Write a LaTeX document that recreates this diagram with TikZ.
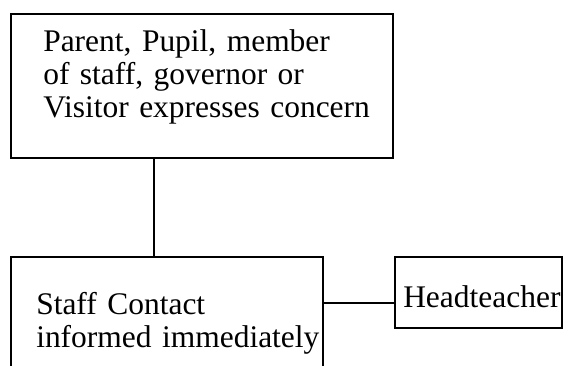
\documentclass[tikz,border=0pt]{standalone}
\usepackage{fontspec}
\setmainfont{Liberation Serif}
\usepackage{tikz}
\usetikzlibrary{calc}

\begin{document}
\begin{tikzpicture}[x=0.75pt,y=-0.75pt]
    \tikzstyle{every node}=[font=\fontsize{23.6pt}{25.1pt}\selectfont]
    \tikzstyle{box}=[draw, line width=1.4pt, inner sep=0pt]
    \tikzstyle{txt}=[anchor=base west, inner sep=0pt, align=left]
    \useasboundingbox (0,0) rectangle (563,365); %
    \clip (0,0) rectangle (563,365); %
    \node[box, anchor=north west, minimum width=286.5pt, minimum height=108pt] (concern) at (10,13) {}; %
    \node[box, anchor=north west, minimum width=234pt, minimum height=123pt] (contact) at ($(concern.north west)+(0,243)$) {}; %
    \node[box, anchor=north west, minimum width=125.25pt, minimum height=53.25pt] (head) at ($(concern.north west)+(384,243)$) {}; %
    \node[txt, text width=262pt] (concerntxt) at ($(concern.north west)+(33,38)$) {Parent, Pupil, member\\of staff, governor or\\Visitor expresses concern}; %
    \node[txt, text width=225pt] (contacttxt) at ($(contact.north west)+(26,58)$) {Staff Contact\\informed immediately}; %
    \node[txt] (headtxt) at ($(head.north west)+(9,51)$) {Headteacher}; %
    \coordinate (stem) at (154,0); %
    \coordinate (link) at (0,303); %
    \draw[line width=1.4pt] (stem |- concern.south) -- (stem |- contact.north); %
    \draw[line width=1.4pt] (contact.east |- link) -- (head.west |- link); %
\end{tikzpicture}
\end{document}
